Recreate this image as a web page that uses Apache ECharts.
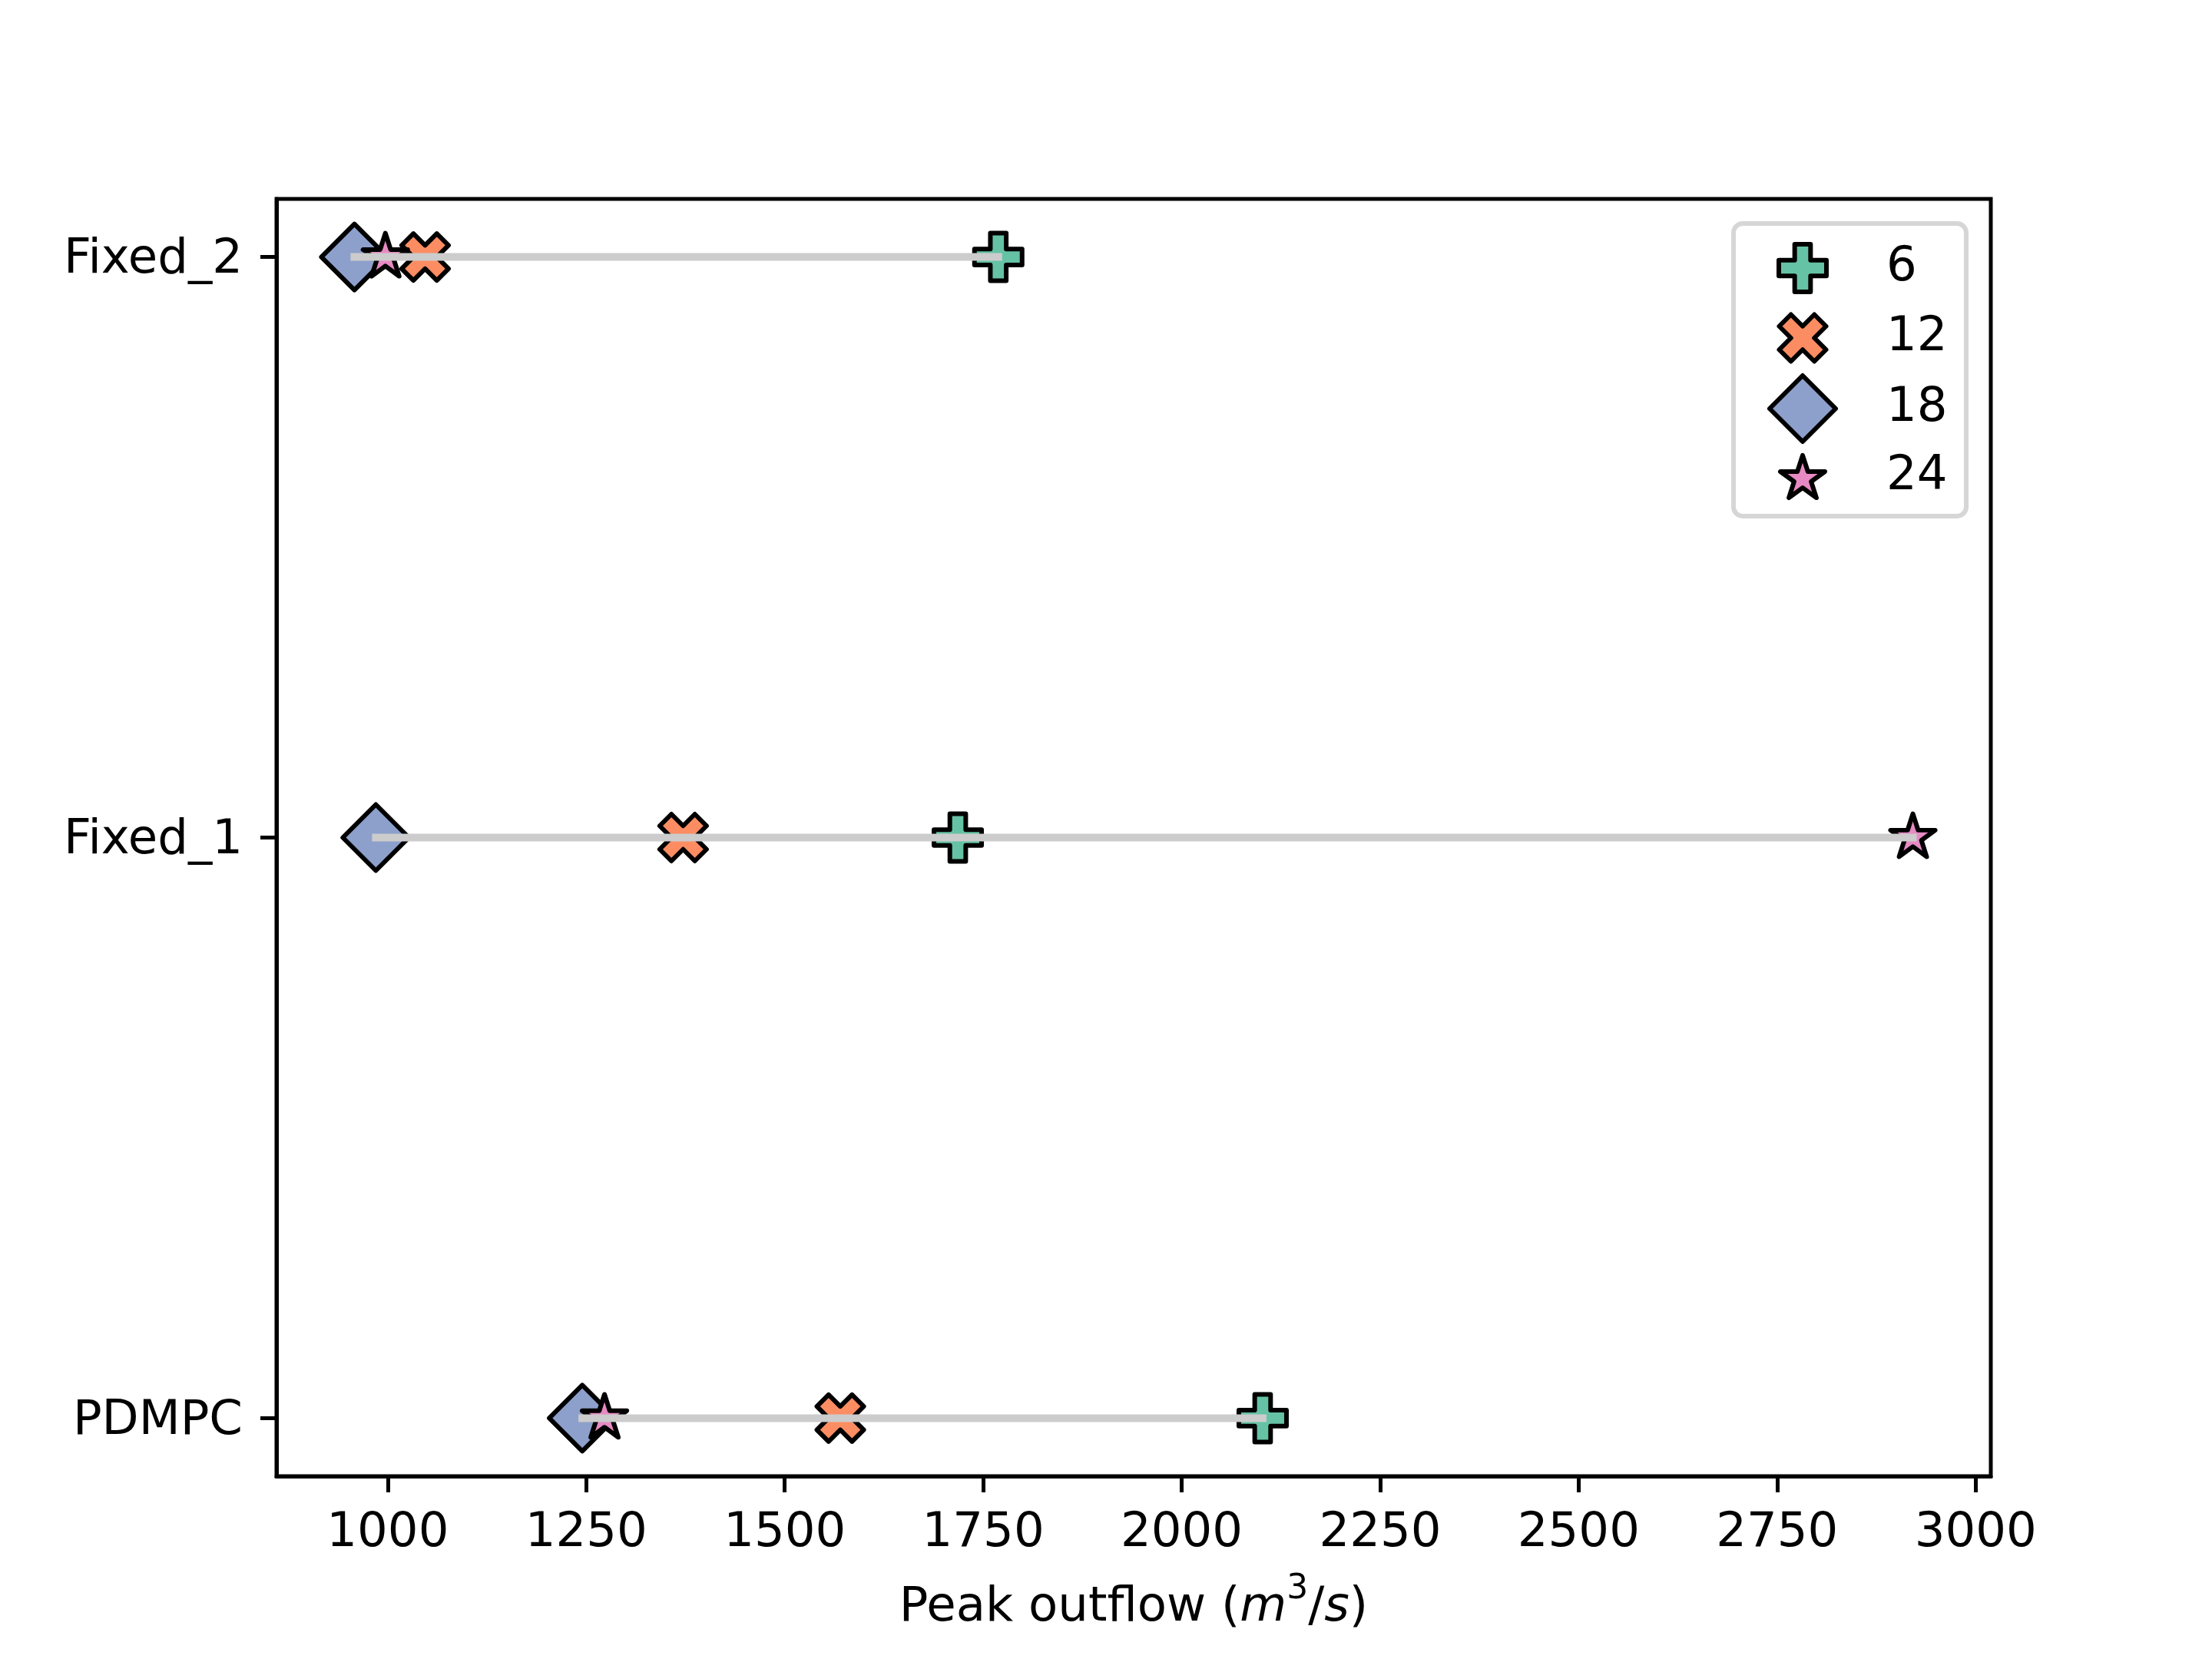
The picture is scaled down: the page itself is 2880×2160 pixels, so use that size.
<!DOCTYPE html>
<html>
<head>
<meta charset="utf-8">
<script src="https://cdn.jsdelivr.net/npm/echarts@6/dist/echarts.min.js"></script>
<style>
html,body{margin:0;padding:0;background:#fff;}
#chart{width:2880px;height:2160px;}
</style>
</head>
<body>
<div id="chart"></div>
<script>
// ---- data ----
const categories = ['PDMPC', 'Fixed_1', 'Fixed_2'];
const horizons = ['6', '12', '18', '24'];
const outflow6  = [2102, 1718, 1769];
const outflow12 = [1570, 1372, 1047];
const outflow18 = [1245, 985, 958];
const outflow24 = [1273, 2921, 997];
const xTicks = [1000, 1250, 1500, 1750, 2000, 2250, 2500, 2750, 3000];
const yTicks = [0, 1, 2];

// ---- styles ----
const colors = ['#66c2a5', '#fc8d62', '#8da0cb', '#e78ac3'];
const plusPath = 'path://M1,0H2V1H3V2H2V3H1V2H0V1H1Z';
const xPath = 'path://M1,4L2,3L3,4L4,3L3,2L4,1L3,0L2,1L1,0L0,1L1,2L0,3Z';
const starPath = 'path://M95.11,0L117.56,69.1L190.22,69.1L131.44,111.8L153.89,180.9L95.11,138.2L36.33,180.9L58.78,111.8L0,69.1L72.66,69.1Z';
const symbols = [plusPath, xPath, 'diamond', starPath];
const sizes = [[62, 62], [61, 61], [86, 86], [58, 56]];
const offsets = [[0, 0], [0, 0], [0, 0], [0, -3]];
const legendCy = [346, 437, 529, 617];
const legendCx = 2344;
const textStart = 2453;
const FS = 62.5;

const seriesValues = [outflow6, outflow12, outflow18, outflow24];
const allVals = [].concat(...seriesValues);
const vMin = Math.min(...allVals), vMax = Math.max(...allVals);
const pad = (vMax - vMin) * 0.05;

const series = [];
seriesValues.forEach((vals, i) => {
  series.push({
    type: 'scatter',
    name: horizons[i],
    data: vals.map((v, j) => [v, j]),
    symbol: symbols[i],
    symbolSize: sizes[i],
    symbolOffset: offsets[i],
    itemStyle: { color: colors[i], borderColor: '#000', borderWidth: 6, borderJoin: 'round', opacity: 1 },
    emphasis: { disabled: true },
    z: 2 + i * 0.01
  });
});
categories.forEach((c, j) => {
  const rowVals = seriesValues.map(s => s[j]);
  series.push({
    type: 'line',
    name: 'range_' + c,
    data: [[Math.min(...rowVals), j], [Math.max(...rowVals), j]],
    symbol: 'none',
    lineStyle: { color: '#cccccc', width: 10, cap: 'square' },
    silent: true,
    z: 3
  });
});

const legends = horizons.map((h, i) => {
  const w = sizes[i][0], hh = sizes[i][1];
  return {
    data: [{ name: h, icon: symbols[i],
      itemStyle: { color: colors[i], borderColor: '#000', borderWidth: 6, borderJoin: 'round' } }],
    left: legendCx - w / 2,
    top: legendCy[i] - hh / 2,
    itemWidth: w,
    itemHeight: hh,
    padding: 0,
    selectedMode: false,
    z: 5,
    textStyle: {
      fontSize: FS, color: '#000', fontFamily: 'DejaVu Sans', lineHeight: 40,
      padding: [0, 0, 10, textStart - (legendCx + w / 2 + 5)]
    }
  };
});

const option = {
  animation: false,
  backgroundColor: '#ffffff',
  textStyle: { fontFamily: 'DejaVu Sans' },
  grid: {
    left: 360, right: 288, top: 259, bottom: 238,
    containLabel: false, outerBoundsMode: 'none',
    show: true, borderColor: '#000', borderWidth: 5, backgroundColor: 'transparent'
  },
  xAxis: {
    type: 'value',
    min: vMin - pad,
    max: vMax + pad,
    splitLine: { show: false },
    axisLine: { show: true, onZero: false, lineStyle: { color: '#000', width: 5 } },
    axisTick: { show: true, length: 21, customValues: xTicks, lineStyle: { color: '#000', width: 5 } },
    axisLabel: {
      customValues: xTicks, margin: 44, fontSize: FS, lineHeight: FS, color: '#000',
      fontFamily: 'DejaVu Sans', formatter: v => String(v), showMinLabel: true, showMaxLabel: true
    },
    name: '{n|Peak outflow (}{i|m}{sup|3}{n|/}{i|s}{n|)}',
    nameLocation: 'middle',
    nameGap: 126,
    nameTextStyle: {
      rich: {
        n: { fontSize: FS, lineHeight: 92, color: '#000', fontFamily: 'DejaVu Sans' },
        i: { fontSize: FS, lineHeight: 92, color: '#000', fontFamily: 'DejaVu Sans', fontStyle: 'italic' },
        sup: { fontSize: 44, lineHeight: 44, color: '#000', fontFamily: 'DejaVu Sans', verticalAlign: 'top' }
      }
    }
  },
  yAxis: {
    type: 'value',
    min: -0.1,
    max: 2.1,
    splitLine: { show: false },
    axisLine: { show: true, onZero: false, lineStyle: { color: '#000', width: 5 } },
    axisTick: { show: true, length: 21, customValues: yTicks, lineStyle: { color: '#000', width: 5 } },
    axisLabel: {
      customValues: yTicks, margin: 44, fontSize: FS, lineHeight: 8, color: '#000',
      verticalAlign: 'top',
      fontFamily: 'DejaVu Sans', formatter: v => categories[Math.round(v)] || ''
    }
  },
  legend: legends,
  graphic: [{
    type: 'rect', z: 4,
    shape: { x: 2257, y: 291, width: 303, height: 381, r: 12 },
    style: { fill: '#ffffff', stroke: '#d6d6d6', lineWidth: 6 }
  }],
  series: series
};

const chart = echarts.init(document.getElementById('chart'), null, { width: 2880, height: 2160, renderer: 'canvas' });
chart.setOption(option);
</script>
</body>
</html>
